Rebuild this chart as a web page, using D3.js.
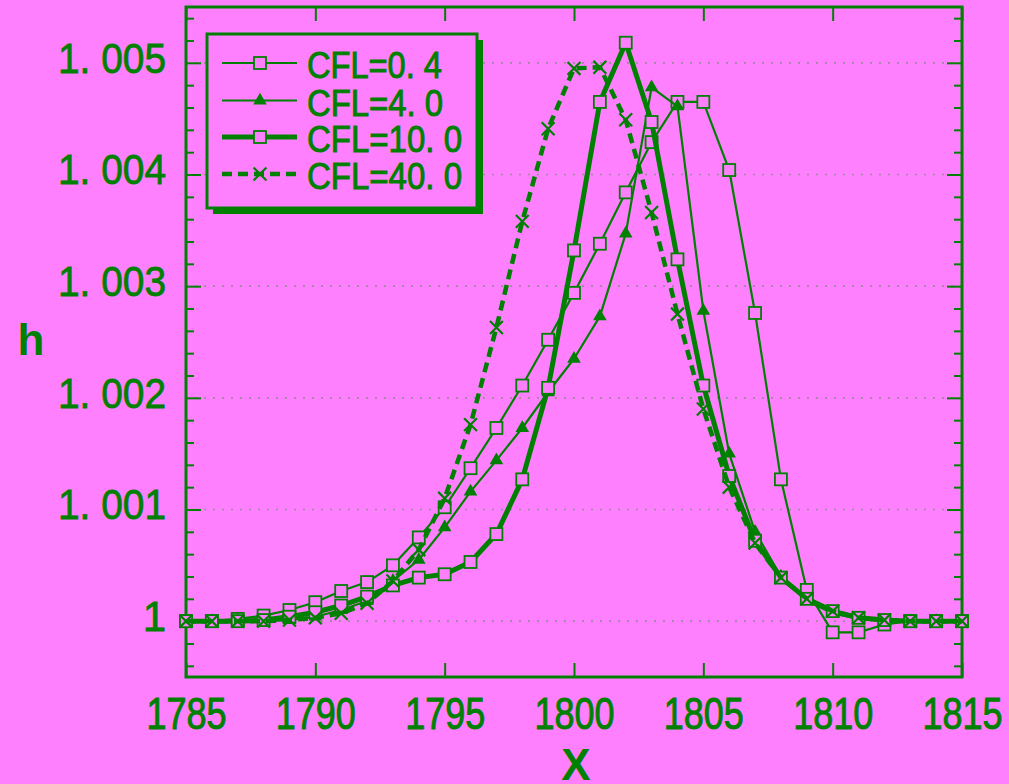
<!DOCTYPE html>
<html lang="en">
<head>
    <meta charset="UTF-8">
    <title>h vs X for several CFL numbers</title>
    <script src="https://d3js.org/d3.v7.min.js"></script>
    <style>
        html, body { margin: 0; padding: 0; background: #ff80ff; }
        svg { display: block; }
        .narrow { font-family: "Liberation Sans Narrow", "Liberation Sans", Arial, sans-serif; }
    </style>
</head>
<body>
    <div id="chart"></div>

    <script>
        // grid positions along X
        const xs = d3.range(1785, 1816);

        // h values, one per X
        const cfl04 = [1.0, 1.0, 1.00002, 1.00005, 1.0001, 1.00017, 1.00027, 1.00035, 1.0005, 1.00075,
            1.00102, 1.00137, 1.00173, 1.00211, 1.00252, 1.00294, 1.00338, 1.00384, 1.00429, 1.00465,
            1.00465, 1.00404, 1.00276, 1.00127, 1.00028, 0.9999, 0.9999, 0.99997, 1.0, 1.0, 1.0];
        const cfl4 = [1.0, 1.0, 1.0, 1.0, 1.00001, 1.00004, 1.0001, 1.00018, 1.00036, 1.00055,
            1.00084, 1.00116, 1.00144, 1.00173, 1.00205, 1.00235, 1.00273, 1.00347, 1.00478, 1.00461,
            1.00278, 1.0015, 1.0008, 1.0004, 1.00018, 1.00007, 1.00002, 1.0, 1.0, 1.0, 1.0];
        const cfl10 = [1.0, 1.0, 1.0, 1.00001, 1.00004, 1.00008, 1.00014, 1.00022, 1.00032, 1.00039,
            1.00042, 1.00053, 1.00078, 1.00127, 1.00209, 1.00332, 1.00465, 1.00518, 1.00447, 1.00324,
            1.00211, 1.0013, 1.00072, 1.00039, 1.0002, 1.00009, 1.00003, 1.00001, 1.0, 1.0, 1.0];
        const cfl40 = [1.0, 1.0, 1.0, 1.0, 1.00001, 1.00003, 1.00007, 1.00016, 1.00036, 1.00064,
            1.0011, 1.00176, 1.00263, 1.00358, 1.00441, 1.00495, 1.00496, 1.00449, 1.00366, 1.00275,
            1.0019, 1.0012, 1.0007, 1.00039, 1.0002, 1.00009, 1.00003, 1.00001, 1.0, 1.0, 1.0];

        const seriesNames = ["CFL=0. 4", "CFL=4. 0", "CFL=10. 0", "CFL=40. 0"];
        const xTicks = [1785, 1790, 1795, 1800, 1805, 1810, 1815];
        const yTicks = [1, 1.001, 1.002, 1.003, 1.004, 1.005];

        const green = "#008000";
        const bg = "#ff80ff";

        const width = 1009, height = 784;
        const margin = { left: 186, right: 962, top: 7, bottom: 677 };

        const svg = d3.select("#chart").append("svg")
            .attr("width", width)
            .attr("height", height);

        svg.append("rect").attr("width", width).attr("height", height).attr("fill", bg);

        const x = d3.scaleLinear().domain([1785, 1815]).range([margin.left, margin.right]);
        const y = d3.scaleLinear().domain([0.9995, 1.0055]).range([margin.bottom, margin.top]);

        // dotted horizontal grid
        svg.append("g").selectAll("line")
            .data(yTicks)
            .enter()
            .append("line")
            .attr("x1", margin.left).attr("x2", margin.right)
            .attr("y1", d => y(d)).attr("y2", d => y(d))
            .attr("stroke", "#9a8a9a")
            .attr("stroke-width", 1.6)
            .attr("stroke-dasharray", "2,7");

        // minor y ticks every 0.0002
        const yMinor = d3.range(0, 31).map(i => 0.9996 + i * 0.0002)
            .filter(v => v < 1.0055 && !yTicks.some(t => Math.abs(t - v) < 1e-7));

        const yFmt = d => d === 1 ? "1" : d3.format(".3f")(d).replace(".", ". ");

        // left axis
        const yAxisG = svg.append("g")
            .attr("transform", `translate(${margin.left},0)`)
            .call(d3.axisLeft(y).tickValues(yTicks).tickSize(-15).tickPadding(20).tickFormat(yFmt));
        yAxisG.select(".domain").remove();
        yAxisG.selectAll("line").attr("stroke", green).attr("stroke-width", 2);
        yAxisG.selectAll("text")
            .attr("fill", green)
            .attr("stroke", green)
            .attr("stroke-width", 0.8)
            .style("font-family", "'Liberation Sans', Arial, sans-serif")
            .style("font-size", "42px")
            .attr("dy", "0.22em")
            .each(function (d) {
                if (d !== 1) d3.select(this).attr("textLength", 108).attr("lengthAdjust", "spacingAndGlyphs");
            });

        svg.append("g")
            .attr("transform", `translate(${margin.left},0)`)
            .call(d3.axisLeft(y).tickValues(yMinor).tickSize(-8).tickFormat(""))
            .call(g => g.select(".domain").remove())
            .selectAll("line").attr("stroke", green).attr("stroke-width", 2);

        // right axis
        svg.append("g")
            .attr("transform", `translate(${margin.right},0)`)
            .call(d3.axisRight(y).tickValues(yTicks).tickSize(-15).tickFormat(""))
            .call(g => g.select(".domain").remove())
            .selectAll("line").attr("stroke", green).attr("stroke-width", 2);
        svg.append("g")
            .attr("transform", `translate(${margin.right},0)`)
            .call(d3.axisRight(y).tickValues(yMinor).tickSize(-8).tickFormat(""))
            .call(g => g.select(".domain").remove())
            .selectAll("line").attr("stroke", green).attr("stroke-width", 2);

        // bottom axis
        const xAxisG = svg.append("g")
            .attr("transform", `translate(0,${margin.bottom})`)
            .call(d3.axisBottom(x).tickValues(xTicks).tickSize(-14).tickPadding(21).tickFormat(d3.format("d")));
        xAxisG.select(".domain").remove();
        xAxisG.selectAll("line").attr("stroke", green).attr("stroke-width", 2);
        xAxisG.selectAll("text")
            .attr("class", "narrow")
            .attr("fill", green)
            .attr("stroke", green)
            .attr("stroke-width", 1)
            .style("font-size", "44px")
            .attr("textLength", 80)
            .attr("lengthAdjust", "spacingAndGlyphs");

        // top axis
        svg.append("g")
            .attr("transform", `translate(0,${margin.top})`)
            .call(d3.axisTop(x).tickValues(xTicks).tickSize(-14).tickFormat(""))
            .call(g => g.select(".domain").remove())
            .selectAll("line").attr("stroke", green).attr("stroke-width", 2);

        // frame
        svg.append("rect")
            .attr("x", margin.left).attr("y", margin.top)
            .attr("width", margin.right - margin.left).attr("height", margin.bottom - margin.top)
            .attr("fill", "none")
            .attr("stroke", green)
            .attr("stroke-width", 3);

        // axis titles
        svg.append("text")
            .attr("x", 31).attr("y", 355)
            .attr("text-anchor", "middle")
            .attr("fill", green)
            .style("font-family", "'Liberation Sans', Arial, sans-serif")
            .style("font-weight", "bold")
            .style("font-size", "44px")
            .text("h");

        svg.append("text")
            .attr("x", 576).attr("y", 780)
            .attr("text-anchor", "middle")
            .attr("fill", green)
            .style("font-family", "'Liberation Sans', Arial, sans-serif")
            .style("font-weight", "bold")
            .style("font-size", "44px")
            .text("X");

        const styles = [
            { width: 2.2, dash: null, marker: "square" },
            { width: 2.2, dash: null, marker: "triangle" },
            { width: 5, dash: null, marker: "square" },
            { width: 4.5, dash: "10,6", marker: "cross" }
        ];
        const allSeries = [cfl04, cfl4, cfl10, cfl40];

        const line = d3.line().x(d => x(d[0])).y(d => y(d[1]));

        function drawMarker(g, kind, cx, cy) {
            if (kind === "square") {
                g.append("rect")
                    .attr("x", cx - 6).attr("y", cy - 6)
                    .attr("width", 12).attr("height", 12)
                    .attr("fill", bg)
                    .attr("stroke", green)
                    .attr("stroke-width", 1.8);
            } else if (kind === "triangle") {
                g.append("path")
                    .attr("d", d3.symbol().type(d3.symbolTriangle).size(80)())
                    .attr("transform", `translate(${cx},${cy})`)
                    .attr("fill", green);
            } else {
                g.append("path")
                    .attr("d", d3.symbol().type(d3.symbolX).size(110)())
                    .attr("transform", `translate(${cx},${cy})`)
                    .attr("fill", "none")
                    .attr("stroke", green)
                    .attr("stroke-width", 2.2);
            }
        }

        allSeries.forEach((vals, i) => {
            const pts = xs.map((xv, j) => [xv, vals[j]]);
            const g = svg.append("g");
            g.append("path")
                .attr("d", line(pts))
                .attr("fill", "none")
                .attr("stroke", green)
                .attr("stroke-width", styles[i].width)
                .attr("stroke-dasharray", styles[i].dash)
                .attr("stroke-linejoin", "round");
            pts.forEach(p => drawMarker(g, styles[i].marker, x(p[0]), y(p[1])));
        });

        // legend box with shadow
        const lg = svg.append("g");
        lg.append("rect")
            .attr("x", 213).attr("y", 40)
            .attr("width", 270).attr("height", 174)
            .attr("fill", green);
        lg.append("rect")
            .attr("x", 207).attr("y", 34)
            .attr("width", 270).attr("height", 174)
            .attr("fill", bg)
            .attr("stroke", green)
            .attr("stroke-width", 3);

        const rowY = [63, 100.5, 137, 174];
        const textLen = [135, 136, 155, 155];
        seriesNames.forEach((name, i) => {
            lg.append("line")
                .attr("x1", 222).attr("x2", 297)
                .attr("y1", rowY[i]).attr("y2", rowY[i])
                .attr("stroke", green)
                .attr("stroke-width", styles[i].width)
                .attr("stroke-dasharray", styles[i].dash);
            drawMarker(lg, styles[i].marker, 260, rowY[i]);
            lg.append("text")
                .attr("class", "narrow")
                .attr("x", 307).attr("y", rowY[i] + 15)
                .attr("fill", green)
                .attr("stroke", green)
                .attr("stroke-width", 1)
                .style("font-size", "37px")
                .attr("textLength", textLen[i])
                .attr("lengthAdjust", "spacingAndGlyphs")
                .text(name);
        });
    </script>
</body>
</html>
